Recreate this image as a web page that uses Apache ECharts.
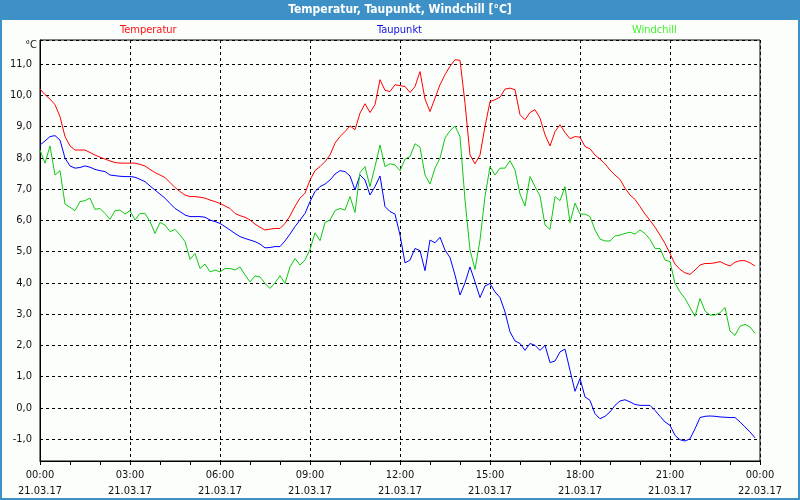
<!DOCTYPE html>
<html><head><meta charset="utf-8">
<script src="https://cdn.jsdelivr.net/npm/echarts@6/dist/echarts.min.js"></script>
<style>html,body{margin:0;padding:0;background:#fcfefc}#c{width:800px;height:500px}</style>
</head><body><div id="c"></div>
<script>
// Samples every 10 minutes from 21.03.17 00:00
const sampleStepMinutes = 10;
const seriesNames = ['Temperatur', 'Taupunkt', 'Windchill'];
const temperatur = [
 10.2,10.02,9.88,9.70,9.32,8.68,8.38,8.25,8.25,8.25,
 8.17,8.09,8.02,7.96,7.90,7.85,7.83,7.83,7.83,7.83,
 7.79,7.74,7.63,7.53,7.45,7.37,7.21,7.05,6.92,6.81,
 6.76,6.76,6.74,6.71,6.65,6.60,6.54,6.46,6.38,6.22,
 6.15,6.10,6.01,5.88,5.78,5.69,5.72,5.74,5.74,5.90,
 6.14,6.45,6.71,6.87,7.29,7.59,7.72,7.88,8.09,8.47,
 8.68,8.84,9.02,8.90,9.43,9.73,9.45,9.70,10.50,10.16,
 10.12,10.34,10.31,10.28,10.09,10.28,10.76,9.88,9.48,9.91,
 10.34,10.66,10.93,11.14,11.12,9.75,8.09,7.81,8.09,9.0,
 9.80,9.86,9.94,10.20,10.23,10.18,9.38,9.22,9.45,9.54,
 9.27,8.74,8.38,8.84,9.06,8.81,8.61,8.68,8.66,8.36,
 8.29,8.09,7.96,7.81,7.61,7.45,7.31,7.03,6.81,6.67,
 6.44,6.20,6.0,5.78,5.53,5.26,4.94,4.60,4.43,4.32,
 4.27,4.41,4.57,4.62,4.62,4.64,4.68,4.60,4.54,4.66,
 4.71,4.71,4.64,4.54
];
const taupunkt = [
 8.41,8.54,8.68,8.71,8.57,7.99,7.74,7.67,7.69,7.74,
 7.70,7.63,7.59,7.56,7.45,7.43,7.41,7.40,7.40,7.38,
 7.31,7.24,7.10,6.97,6.84,6.71,6.54,6.38,6.28,6.17,
 6.12,6.12,6.12,6.10,6.01,5.96,5.90,5.80,5.69,5.58,
 5.48,5.42,5.37,5.32,5.24,5.12,5.13,5.16,5.16,5.34,
 5.56,5.80,6.01,6.22,6.60,6.92,7.08,7.16,7.29,7.48,
 7.59,7.56,7.42,6.97,7.45,7.29,6.81,7.08,7.42,6.44,
 6.28,6.20,5.53,4.64,4.73,5.10,5.03,4.39,5.37,5.28,
 5.46,5.05,4.81,4.25,3.61,4.0,4.51,4.03,3.53,3.90,
 3.98,3.71,3.53,3.07,2.43,2.14,2.06,1.84,2.06,2.0,
 1.84,2.0,1.45,1.50,1.79,1.88,1.20,0.53,0.94,0.35,
 0.24,-0.19,-0.35,-0.27,-0.13,0.08,0.22,0.26,0.19,0.11,
 0.08,0.08,0.08,-0.08,-0.27,-0.45,-0.56,-0.88,-1.02,-1.06,
 -0.99,-0.67,-0.31,-0.27,-0.26,-0.27,-0.29,-0.30,-0.31,-0.31,
 -0.45,-0.61,-0.77,-0.96
];
const windchill = [
 8.25,7.83,8.38,7.45,7.59,6.52,6.42,6.31,6.60,6.63,
 6.71,6.35,6.38,6.22,6.03,6.31,6.33,6.20,6.31,6.01,
 6.22,6.22,5.96,5.58,5.93,5.85,5.64,5.71,5.53,5.32,
 4.75,4.94,4.46,4.60,4.35,4.41,4.35,4.46,4.46,4.41,
 4.51,4.25,4.03,4.22,4.19,3.98,3.82,4.00,4.23,3.98,
 4.51,4.78,4.57,4.73,5.07,5.60,5.35,5.93,6.01,6.31,
 6.38,6.33,6.76,6.25,7.53,7.72,7.08,7.72,8.41,7.72,
 7.81,7.77,7.59,7.96,8.04,8.45,8.34,7.45,7.16,7.67,
 7.99,8.63,8.87,9.02,8.68,6.65,5.05,4.43,5.37,6.76,
 7.72,7.45,7.67,7.67,7.91,7.61,6.84,6.46,7.40,7.08,
 6.78,5.85,5.71,6.76,6.63,7.08,5.93,6.55,6.20,6.20,
 6.12,5.69,5.40,5.34,5.34,5.50,5.53,5.58,5.62,5.56,
 5.69,5.58,5.39,5.10,5.10,4.73,4.68,3.98,3.71,3.50,
 3.21,2.93,3.50,3.10,2.97,2.97,3.04,3.21,2.46,2.32,
 2.61,2.67,2.59,2.38
];
// x tick labels, every 3 hours (180 minutes)
const xTickTimes = ['00:00','03:00','06:00','09:00','12:00','15:00','18:00','21:00','00:00'];
const xTickDates = ['21.03.17','21.03.17','21.03.17','21.03.17','21.03.17','21.03.17','21.03.17','21.03.17','22.03.17'];

const FONT = "'Liberation Sans Narrow','DejaVu Sans Condensed','Liberation Sans',sans-serif";
const colors = ['#ff0000', '#0000ff', '#11c811'];
const legendColors = ['#ff1010', '#1010e0', '#44f030'];
const legendLeft = [115, 372, 627];

const toPairs = arr => arr.map((v, i) => [i * sampleStepMinutes, v]);
const dataSets = [temperatur, taupunkt, windchill];

const chart = echarts.init(document.getElementById('c'), null, {renderer: 'canvas'});
chart.setOption({
  animation: false,
  backgroundColor: '#fcfefc',
  title: {
    text: 'Temperatur, Taupunkt, Windchill [°C]',
    left: 'center', top: 4, padding: 0,
    textStyle: {color: '#ffffff', fontSize: 12, fontWeight: 'bold', fontFamily: FONT}
  },
  legend: seriesNames.map((n, i) => ({
    data: [{name: n, textStyle: {color: legendColors[i]}}],
    left: legendLeft[i], top: 25, padding: 0,
    itemWidth: 0, itemHeight: 0, itemGap: 0, icon: 'rect',
    selectedMode: false,
    textStyle: {fontSize: 11, fontFamily: FONT}
  })),
  grid: {left: 40, right: 40, top: 40, bottom: 39, show: true, borderColor: '#000', borderWidth: 1,
         backgroundColor: 'transparent', containLabel: false, outerBoundsMode: 'none'},
  xAxis: {
    type: 'value', min: 0, max: 1440, interval: 180,
    axisLine: {show: true, onZero: false, lineStyle: {color: '#000', width: 1}},
    axisTick: {show: true, length: 4, lineStyle: {color: '#000'}},
    minorTick: {show: true, splitNumber: 3, length: 4, lineStyle: {color: '#000'}},
    splitLine: {show: true, lineStyle: {color: '#000', type: [3, 3], width: 1}},
    axisLabel: {
      margin: 6, fontSize: 11, fontFamily: FONT, color: '#111', lineHeight: 16,
      showMinLabel: true, showMaxLabel: true, hideOverlap: false,
      formatter: v => { const i = Math.round(v / 180); return xTickTimes[i] + '\n' + xTickDates[i]; }
    }
  },
  yAxis: {
    type: 'value', min: -1.7, max: 11.77, splitNumber: 13, minInterval: 1, maxInterval: 1,
    axisLine: {show: true, onZero: false, lineStyle: {color: '#000', width: 1}},
    axisTick: {show: false},
    splitLine: {show: true, lineStyle: {color: '#000', type: [3, 3], width: 1}},
    axisLabel: {
      margin: 8, fontSize: 11, fontFamily: FONT, color: '#111',
      showMinLabel: false, showMaxLabel: false,
      formatter: v => v.toFixed(1).replace('.', ',')
    }
  },
  graphic: [
    {type: 'rect', z: -10, shape: {x: 0, y: 0, width: 800, height: 20}, style: {fill: '#3d91c6'}},
    {type: 'rect', z: 100, shape: {x: 1, y: 1, width: 798, height: 498}, style: {fill: null, stroke: '#3d91c6', lineWidth: 2}},
    {type: 'text', z: 100, x: 37, y: 45, style: {text: '°C', fill: '#111', font: '11px ' + FONT, textAlign: 'right', textVerticalAlign: 'middle'}}
  ],
  series: seriesNames.map((n, i) => ({
    name: n, type: 'line', data: toPairs(dataSets[i]),
    symbol: 'none', smooth: false,
    lineStyle: {color: colors[i], width: 1}, itemStyle: {color: colors[i]},
    emphasis: {disabled: true}
  }))
});
</script></body></html>
